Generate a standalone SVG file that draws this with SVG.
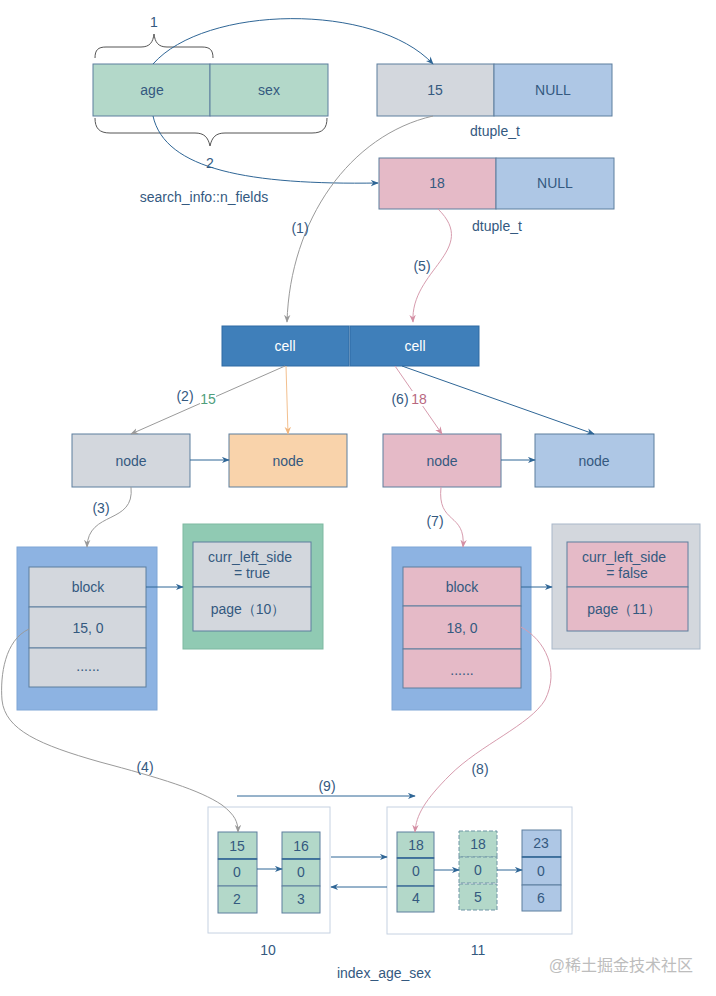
<svg xmlns="http://www.w3.org/2000/svg" width="716" height="996" viewBox="0 0 716 996">
<defs>
<style>
text{font-family:"Liberation Sans",Arial,sans-serif;font-size:14px;fill:#34597f;text-anchor:middle;dominant-baseline:central}
.w{fill:#ffffff}
.bd{stroke:#5d7e9e;stroke-width:1}
.grn{fill:#b3d8c9}
.gry{fill:#d3d7dd}
.blu{fill:#aec7e5}
.pnk{fill:#e5bac7}
.org{fill:#f9d3ab}
.cellc{fill:#3f7fba;stroke:#2f6ba3}
.c{fill:none;stroke-width:1}
.cg{stroke:#9a9a9a}
.cp{stroke:#d79cae}
.co{stroke:#f3c08f}
.cb{stroke:#2f6696}
</style>
<marker id="ag" viewBox="0 0 10 8" refX="9" refY="4" markerWidth="8" markerHeight="7" orient="auto" markerUnits="userSpaceOnUse"><path d="M0,0 L10,4 L0,8 L3,4 z" fill="#9a9a9a"/></marker>
<marker id="ap" viewBox="0 0 10 8" refX="9" refY="4" markerWidth="8" markerHeight="7" orient="auto" markerUnits="userSpaceOnUse"><path d="M0,0 L10,4 L0,8 L3,4 z" fill="#d48fa4"/></marker>
<marker id="ao" viewBox="0 0 10 8" refX="9" refY="4" markerWidth="8" markerHeight="7" orient="auto" markerUnits="userSpaceOnUse"><path d="M0,0 L10,4 L0,8 L3,4 z" fill="#f0b57d"/></marker>
<marker id="ab" viewBox="0 0 10 8" refX="9" refY="4" markerWidth="8" markerHeight="7" orient="auto" markerUnits="userSpaceOnUse"><path d="M0,0 L10,4 L0,8 L3,4 z" fill="#2f6696"/></marker>
</defs>
<rect x="0" y="0" width="716" height="996" fill="#ffffff"/>

<!-- key fields -->
<g id="key">
<rect x="93" y="64" width="117" height="52" class="grn bd"/>
<rect x="210" y="64" width="118" height="52" class="grn bd"/>
<text x="152" y="90">age</text>
<text x="269" y="90">sex</text>
<path d="M95,58 C95,50 98,47 106,47 L141,47 C150,47 153,42 154,34 C155,42 158,47 167,47 L202,47 C210,47 213,50 213,58" fill="none" stroke="#555" stroke-width="1"/>
<path d="M95,118 C95,128 99,133 110,133 L195,133 C204,133 208,137 210,146 C212,137 216,133 225,133 L312,133 C323,133 327,128 327,118" fill="none" stroke="#555" stroke-width="1"/>
<text x="154" y="22">1</text>
<text x="210" y="163">2</text>
<text x="204" y="197">search_info::n_fields</text>
</g>

<g id="dtuple1">
<rect x="377" y="64" width="117" height="52" class="gry bd"/>
<rect x="494" y="64" width="118" height="52" class="blu bd"/>
<text x="435" y="90">15</text>
<text x="553" y="90">NULL</text>
<text x="495" y="131">dtuple_t</text>
</g>

<g id="dtuple2">
<rect x="379" y="158" width="117" height="51" class="pnk bd"/>
<rect x="496" y="158" width="118" height="51" class="blu bd"/>
<text x="437" y="183">18</text>
<text x="555" y="183">NULL</text>
<text x="497" y="226">dtuple_t</text>
</g>

<g id="cells">
<rect x="222" y="326" width="127" height="40" class="cellc"/>
<rect x="350" y="326" width="129" height="40" class="cellc"/>
<text x="285" y="346" class="w">cell</text>
<text x="415" y="346" class="w">cell</text>
</g>

<g id="node1"><rect x="72" y="434" width="118" height="53" class="gry bd"/><text x="131" y="461">node</text></g>
<g id="node2"><rect x="229" y="434" width="118" height="53" class="org bd"/><text x="288" y="461">node</text></g>
<g id="node3"><rect x="383" y="434" width="118" height="53" class="pnk bd"/><text x="442" y="461">node</text></g>
<g id="node4"><rect x="535" y="434" width="119" height="53" class="blu bd"/><text x="594" y="461">node</text></g>

<g id="block1">
<rect x="17" y="547" width="140" height="163" fill="#8db3e2" stroke="#7fa6d6"/>
<rect x="29" y="567" width="117" height="40" class="gry bd"/>
<rect x="29" y="607" width="117" height="41" class="gry bd"/>
<rect x="29" y="648" width="117" height="39" class="gry bd"/>
<text x="88" y="587">block</text>
<text x="88" y="628">15, 0</text>
<text x="88" y="666">......</text>
</g>

<g id="page10info">
<rect x="183" y="524" width="140" height="125" fill="#90cab3" stroke="#7fb9a1"/>
<rect x="193" y="542" width="118" height="45" class="gry bd"/>
<rect x="193" y="587" width="118" height="44" class="gry bd"/>
<text x="250" y="557">curr_left_side</text>
<text x="252" y="573">= true</text>
<text x="248" y="609">page（10）</text>
</g>

<g id="block2">
<rect x="392" y="547" width="139" height="163" fill="#8db3e2" stroke="#7fa6d6"/>
<rect x="403" y="567" width="118" height="39" class="pnk bd"/>
<rect x="403" y="606" width="118" height="43" class="pnk bd"/>
<rect x="403" y="649" width="118" height="39" class="pnk bd"/>
<text x="462" y="587">block</text>
<text x="462" y="628">18, 0</text>
<text x="462" y="670">......</text>
</g>

<g id="page11info">
<rect x="552" y="524" width="148" height="125" fill="#d3d7dd" stroke="#a9b8c9"/>
<rect x="567" y="542" width="121" height="45" class="pnk bd"/>
<rect x="567" y="587" width="121" height="44" class="pnk bd"/>
<text x="624" y="557">curr_left_side</text>
<text x="627" y="573">= false</text>
<text x="624" y="609">page（11）</text>
</g>

<g id="page10">
<rect x="208" y="807" width="122" height="126" fill="#ffffff" stroke="#c6d2e2"/>
<rect x="218" y="832" width="39" height="27" class="grn bd"/>
<rect x="218" y="859" width="39" height="27" class="grn bd"/>
<rect x="218" y="886" width="39" height="27" class="grn bd"/>
<line x1="218" y1="859" x2="257" y2="859" stroke="#2f6696" stroke-width="1.5"/>
<text x="237" y="846">15</text><text x="237" y="872">0</text><text x="237" y="899">2</text>
<rect x="282" y="832" width="38" height="27" class="grn bd"/>
<rect x="282" y="859" width="38" height="27" class="grn bd"/>
<rect x="282" y="886" width="38" height="27" class="grn bd"/>
<line x1="282" y1="859" x2="320" y2="859" stroke="#2f6696" stroke-width="1.5"/>
<text x="301" y="846">16</text><text x="301" y="872">0</text><text x="301" y="899">3</text>
<text x="268" y="950">10</text>
</g>

<g id="page11">
<rect x="387" y="807" width="185" height="127" fill="#ffffff" stroke="#c6d2e2"/>
<rect x="397" y="832" width="37" height="26" class="grn bd"/>
<rect x="397" y="858" width="37" height="28" class="grn bd"/>
<rect x="397" y="886" width="37" height="26" class="grn bd"/>
<line x1="397" y1="858" x2="434" y2="858" stroke="#2f6696" stroke-width="1.5"/>
<line x1="397" y1="886" x2="434" y2="886" stroke="#2f6696" stroke-width="1.2"/>
<text x="416" y="845">18</text><text x="416" y="871">0</text><text x="416" y="898">4</text>
<rect x="459" y="831" width="38" height="26" class="grn" stroke="#6f95a5" stroke-dasharray="4,2"/>
<rect x="459" y="857" width="38" height="26" class="grn" stroke="#6f95a5" stroke-dasharray="4,2"/>
<rect x="459" y="884" width="38" height="26" class="grn" stroke="#6f95a5" stroke-dasharray="4,2"/>
<text x="478" y="844">18</text><text x="478" y="870">0</text><text x="478" y="897">5</text>
<rect x="522" y="830" width="39" height="27" class="blu bd"/>
<rect x="522" y="857" width="39" height="28" class="blu bd"/>
<rect x="522" y="885" width="39" height="26" class="blu bd"/>
<line x1="522" y1="857" x2="561" y2="857" stroke="#2f6696" stroke-width="1.5"/>
<text x="541" y="843">23</text><text x="541" y="871">0</text><text x="541" y="898">6</text>
<text x="478" y="950">11</text>
</g>

<text x="384" y="973">index_age_sex</text>
<text x="693" y="965" style="text-anchor:end;fill:#bdbdbd;font-size:16px;font-family:'Liberation Sans','Noto Sans CJK SC',sans-serif">@稀土掘金技术社区</text>

<g id="connectors">
<path class="c cb" d="M153,64 C205,5 375,2 433,64" marker-end="url(#ab)"/>
<path class="c cb" d="M153,116 C165,170 250,185 378,183" marker-end="url(#ab)"/>
<path class="c cg" d="M433,116 C350,135 290,220 287,322" marker-end="url(#ag)"/>
<path class="c cp" d="M438,209 C480,250 410,270 413,322" marker-end="url(#ap)"/>
<line class="c cg" x1="285" y1="366" x2="131" y2="434" marker-end="url(#ag)"/>
<line class="c co" x1="286" y1="366" x2="288" y2="434" marker-end="url(#ao)"/>
<line class="c cp" x1="395" y1="366" x2="442" y2="434" marker-end="url(#ap)"/>
<line class="c cb" x1="402" y1="366" x2="594" y2="434" marker-end="url(#ab)"/>
<line class="c cb" x1="190" y1="460" x2="229" y2="460" marker-end="url(#ab)"/>
<line class="c cb" x1="501" y1="460" x2="535" y2="460" marker-end="url(#ab)"/>
<path class="c cg" d="M131,487 C135,525 88,510 87,547" marker-end="url(#ag)"/>
<path class="c cp" d="M441,487 C437,525 466,512 463,547" marker-end="url(#ap)"/>
<line class="c cb" x1="146" y1="587" x2="183" y2="587" marker-end="url(#ab)"/>
<line class="c cb" x1="521" y1="587" x2="552" y2="587" marker-end="url(#ab)"/>
<path class="c cg" d="M29,629 C5,640 0,675 2,700 C5,730 40,745 100,762 C160,778 200,790 222,805 C235,815 238,822 238,832" marker-end="url(#ag)"/>
<path class="c cp" d="M521,627 C545,640 560,670 545,700 C530,725 480,745 450,775 C425,800 416,815 415,832" marker-end="url(#ap)"/>
<line class="c cb" x1="237" y1="796" x2="415" y2="796" marker-end="url(#ab)"/>
<line class="c cb" x1="257" y1="869" x2="282" y2="869" marker-end="url(#ab)"/>
<line class="c cb" x1="331" y1="857" x2="387" y2="857" marker-end="url(#ab)"/>
<line class="c cb" x1="387" y1="887" x2="331" y2="887" marker-end="url(#ab)"/>
<line class="c cb" x1="434" y1="870" x2="459" y2="870" marker-end="url(#ab)"/>
<line class="c cb" x1="497" y1="870" x2="522" y2="870" marker-end="url(#ab)"/>
</g>

<g id="labels">
<text x="300" y="228">(1)</text>
<text x="422" y="266">(5)</text>
<text x="185" y="396">(2)</text>
<rect x="200" y="391" width="16" height="15" fill="#ffffff"/>
<text x="208" y="399" style="fill:#4f9e7c">15</text>
<text x="400" y="399">(6)</text>
<rect x="411" y="391" width="16" height="15" fill="#ffffff"/>
<text x="419" y="399" style="fill:#b8687f">18</text>
<text x="101" y="508">(3)</text>
<text x="435" y="521">(7)</text>
<text x="145" y="767">(4)</text>
<text x="480" y="769">(8)</text>
<text x="327" y="786">(9)</text>
</g>
</svg>
